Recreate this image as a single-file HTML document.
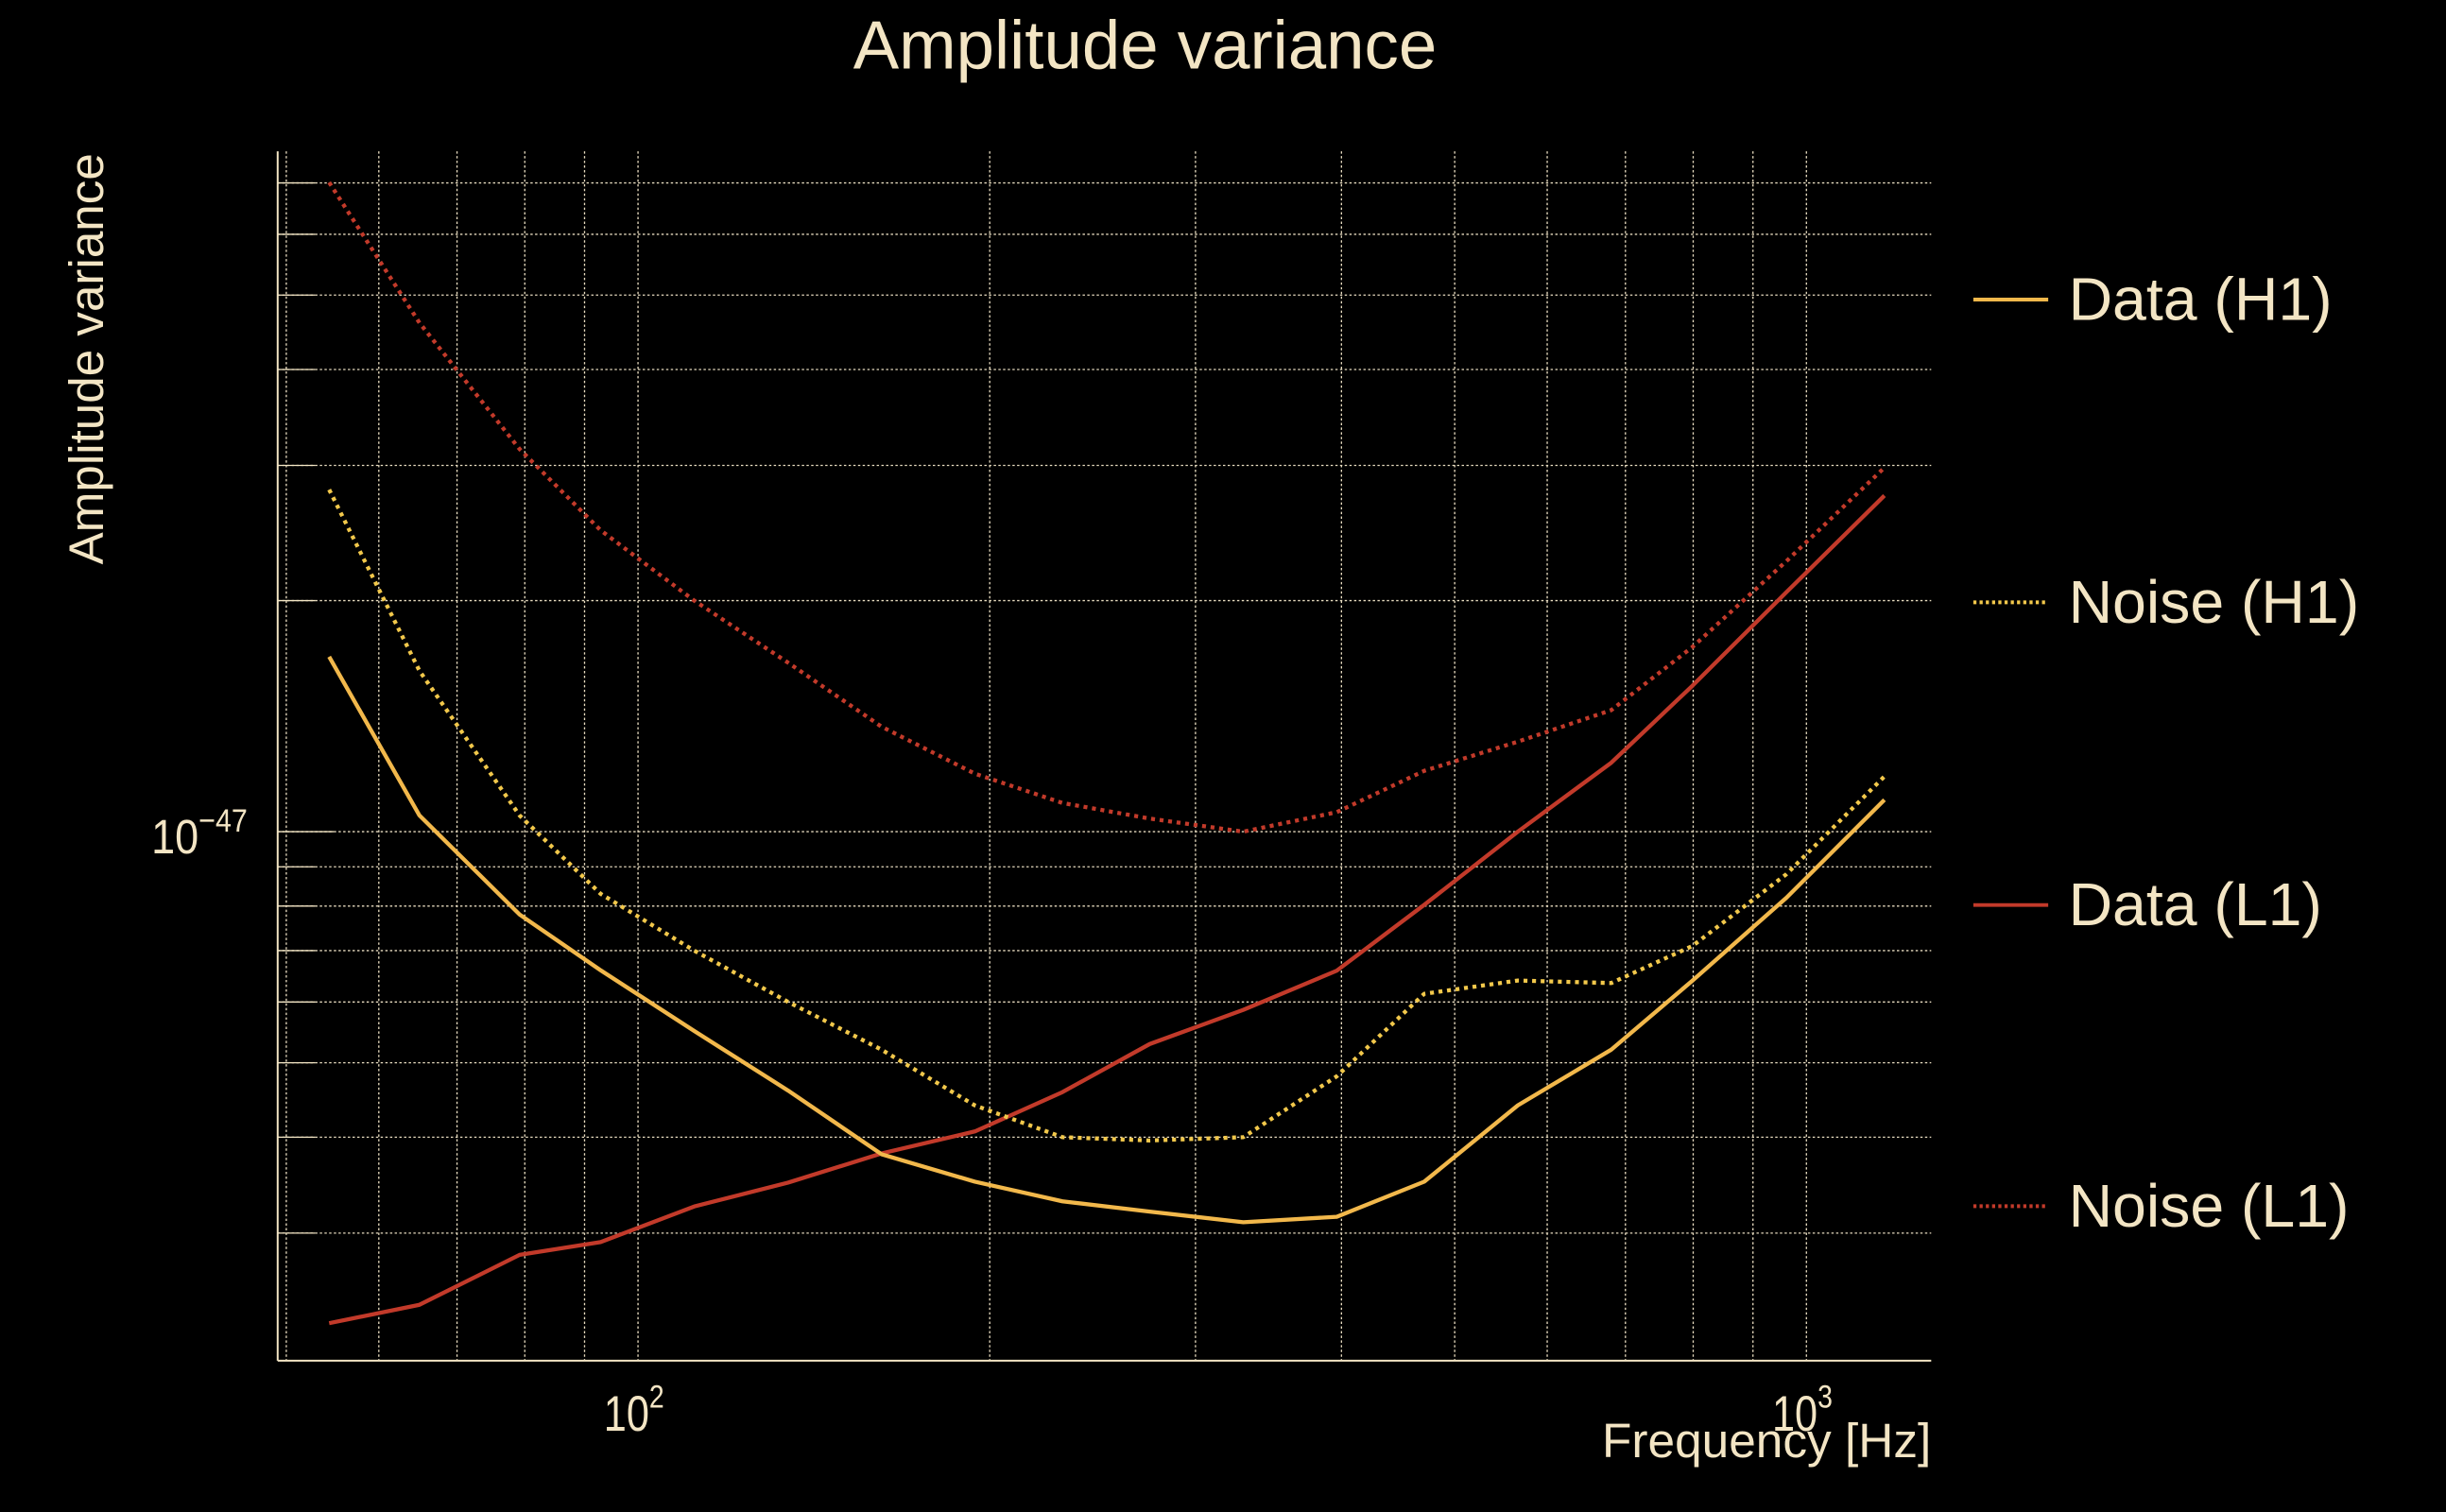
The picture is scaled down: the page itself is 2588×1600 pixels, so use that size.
<!DOCTYPE html>
<html><head><meta charset="utf-8"><style>
html,body{margin:0;padding:0;background:#000;}
svg{display:block;}
text{font-family:"Liberation Sans",sans-serif;fill:#f3e5c4;}
</style></head><body>
<svg id="chart" width="2588" height="1600" viewBox="0 0 1568 969" preserveAspectRatio="none" xmlns="http://www.w3.org/2000/svg">
<rect width="1568" height="969" fill="#000"/>
<text x="734" y="44" font-size="44" text-anchor="middle">Amplitude variance</text>
<text transform="translate(66,230) rotate(-90)" font-size="31" text-anchor="middle">Amplitude variance</text>
<text x="1238" y="934" font-size="31" text-anchor="end" textLength="211" lengthAdjust="spacingAndGlyphs">Frequency [Hz]</text>
<g id="grid"></g>
<g id="series"></g>
<g id="ticks"></g>
<g>
 <g><line x1="1265" y1="192" x2="1313" y2="192" stroke="#f2b84b" stroke-width="2.4"/><text x="1326" y="205" font-size="39">Data (H1)</text></g>
 <g><line x1="1265" y1="386" x2="1313" y2="386" stroke="#f2c84b" stroke-width="2.4" stroke-dasharray="2,2"/><text x="1326" y="399" font-size="39">Noise (H1)</text></g>
 <g><line x1="1265" y1="580" x2="1313" y2="580" stroke="#c23a2a" stroke-width="2.4"/><text x="1326" y="593" font-size="39">Data (L1)</text></g>
 <g><line x1="1265" y1="773" x2="1313" y2="773" stroke="#c23a2a" stroke-width="2.4" stroke-dasharray="2,2"/><text x="1326" y="786" font-size="39">Noise (L1)</text></g>
</g>
</svg>
<script>
const freqs = [54.4,65.0,79.2,92.9,111.7,134.4,161.6,194.2,230.8,274.1,329.6,396.3,470.9,566.2,680.8,799,961,1166];
// values in units of 1e-48
const dataH1 = [16.9,10.5,7.8,6.6,5.5,4.6,3.8,3.5,3.3,3.2,3.1,3.15,3.5,4.4,5.2,6.4,8.2,11.0];
const noiseH1 = [27.9,16.2,10.5,8.3,7.0,6.0,5.2,4.4,4.0,3.96,4.0,4.8,6.15,6.4,6.35,7.1,8.8,11.8];
const dataL1 = [2.29,2.42,2.81,2.92,3.25,3.49,3.81,4.07,4.58,5.29,5.86,6.59,8.03,10.0,12.3,15.5,20.5,27.4];
const noiseL1 = [70.1,46.0,31.5,24.7,20.0,16.6,13.7,11.9,10.9,10.4,10.0,10.6,12.0,13.1,14.4,17.4,22.5,29.8];
const xGridVals = [50,60,70,80,90,100,200,300,400,500,600,700,800,900,1000];
const yGridVals = [3,4,5,6,7,8,9,10,20,30,40,50,60,70];
const xTickLabels = [{v:100,t:"10",e:"2"},{v:1000,t:"10",e:"3"}];
const yTickLabels = [{v:10,t:"10",e:"−47"}];

const NS="http://www.w3.org/2000/svg";
const L=178,R=1238,T=97,B=872;
function xs(f){return 409+(Math.log10(f)-2)*749;}
function ys(v){return 533-(Math.log10(v)-1)*492;}
function mk(tag,attrs,parent){const e=document.createElementNS(NS,tag);for(const k in attrs)e.setAttribute(k,attrs[k]);parent.appendChild(e);return e;}
const grid=document.getElementById('grid');
xGridVals.forEach(v=>{const x=xs(v);
 const l=mk('line',{x1:x,x2:x,y1:T,y2:B,stroke:'#e8dcc0','stroke-width':0.8,'stroke-dasharray':'1.5,1.5'},grid);
 
 
});
yGridVals.forEach(v=>{const y=ys(v);
 const l=mk('line',{x1:L,x2:R,y1:y,y2:y,stroke:'#e8dcc0','stroke-width':0.8,'stroke-dasharray':'1.5,1.5'},grid);
 
 
 const t=mk('line',{x1:L,x2:L+(v===10?36:24),y1:y,y2:y,stroke:'#f3e5c4','stroke-width':0.8},grid);
 
 
});
const ax1=mk('line',{x1:L,x2:L,y1:T,y2:B,stroke:'#f3e5c4','stroke-width':1.2},grid);


const ax2=mk('line',{x1:L,x2:R,y1:B,y2:B,stroke:'#f3e5c4','stroke-width':1.2},grid);



const ticks=document.getElementById('ticks');
xTickLabels.forEach(d=>{const x=xs(d.v);
 const t=mk('text',{x:x-22,y:917,'font-size':32,transform:'',textLength:0},ticks);
 t.removeAttribute('textLength');t.removeAttribute('transform');
 
 
 t.setAttribute('transform','translate('+(x-22)+',0) scale(0.82,1) translate('+(-(x-22))+',0)');
 t.textContent=d.t;
 const s=mk('tspan',{dy:-15,'font-size':21},t);s.textContent=d.e;
});
yTickLabels.forEach(d=>{const y=ys(d.v);
 const t=mk('text',{x:97,y:y+14,'font-size':31},ticks);
 
 
 t.setAttribute('transform','translate(97,0) scale(0.88,1) translate(-97,0)');
 t.textContent=d.t;
 const s=mk('tspan',{dy:-14,'font-size':21},t);s.textContent=d.e;
});

const series=document.getElementById('series');
function draw(vals,color,dash,name){
 const pts=vals.map((v,i)=>xs(freqs[i]).toFixed(1)+','+ys(v).toFixed(1)).join(' ');
 const p=mk('polyline',{points:pts,fill:'none',stroke:color,'stroke-width':2.6,'stroke-linejoin':'round'},series);
 if(dash)p.setAttribute('stroke-dasharray',dash);
 
 
}
draw(noiseL1,'#c23a2a','2.5,3','noise-l1-line');
draw(dataL1,'#c23a2a',null,'data-l1-line');
draw(noiseH1,'#f2c84b','2.5,3','noise-h1-line');
draw(dataH1,'#f2b84b',null,'data-h1-line');
</script>
</body></html>
